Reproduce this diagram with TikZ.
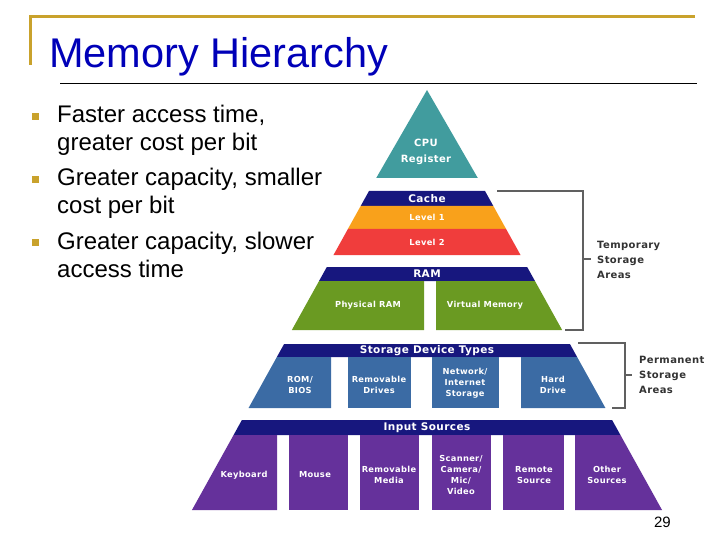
\documentclass[tikz,border=0pt]{standalone}
\usepackage{fontspec}
\setmainfont{Liberation Sans}
\newfontfamily\pyr{DejaVu Sans}[LetterSpace=4]
\usetikzlibrary{calc}
\definecolor{goldc}{HTML}{C9A22C}
\definecolor{titleblue}{HTML}{0000B8}
\definecolor{tealc}{HTML}{419C9E}
\definecolor{navyc}{HTML}{17177E}
\definecolor{orangec}{HTML}{F9A11B}
\definecolor{redc}{HTML}{F03D3C}
\definecolor{greenc}{HTML}{6A9A22}
\definecolor{steelc}{HTML}{3B6BA4}
\definecolor{purplec}{HTML}{65319B}
\definecolor{brkgray}{HTML}{606060}
\definecolor{sidegray}{HTML}{333333}
\newcommand\pyrband[3]{\fill[#3] ({lx(#1)},#1) -- ({rx(#1)},#1) -- ({rx(#2)},#2) -- ({lx(#2)},#2) -- cycle;}
\begin{document}
\begin{tikzpicture}[x=1pt,y=-1pt,
  declare function={lx(\t)=427-(58+0.555*(\t-191)); rx(\t)=427+(58+0.555*(\t-191));},
  hdr/.style={text=white,font=\pyr\bfseries\fontsize{10.5}{12}\selectfont,inner sep=0},
  lab/.style={text=white,font=\pyr\bfseries\fontsize{8.3}{11}\selectfont,align=center,inner sep=0},
  brk/.style={draw=brkgray,line width=1.2pt},
  side/.style={text=sidegray,font=\pyr\bfseries\fontsize{10}{15}\selectfont,align=left,anchor=west,inner sep=0},
  bul/.style={font=\fontsize{24}{28}\selectfont,anchor=base west,inner sep=0},
  bsq/.style={fill=goldc}]
\useasboundingbox (0,0) rectangle (720,540);
% frame
\draw[goldc,line width=3pt] (30,65) -- (30,17) -- (695,17);
\draw[black,line width=1pt] (60,84) -- (697,84);
\node[font=\fontsize{41.5}{44}\selectfont,text=titleblue,anchor=base west,inner sep=0] (title) at (49,68) {Memory Hierarchy};
% bullets
\fill[bsq] (32,113) rectangle (39,120);
\fill[bsq] (32,176) rectangle (39,183);
\fill[bsq] (32,239) rectangle (39,246);
\node[bul] (b1a) at (57,123) {Faster access time,};
\node[bul] (b1b) at (57,151) {greater cost per bit};
\node[bul] (b2a) at (57,186) {Greater capacity, smaller};
\node[bul] (b2b) at (57,214) {cost per bit};
\node[bul] (b3a) at (57,249) {Greater capacity, slower};
\node[bul] (b3b) at (57,277) {access time};
% CPU triangle
\fill[tealc] (427,90) -- ({rx(178)},178) -- ({lx(178)},178) -- cycle;
\node[lab,font=\pyr\bfseries\fontsize{10}{16}\selectfont] (cpu) at (426,152) {CPU\\Register};
% cache
\pyrband{191}{206}{navyc}
\pyrband{206}{229}{orangec}
\pyrband{229}{255}{redc}
\node[hdr] (cache) at (427,198.5) {Cache};
\node[lab] (l1) at (427,217.5) {Level 1};
\node[lab] (l2) at (427,242) {Level 2};
% RAM
\pyrband{267}{281}{navyc}
\fill[greenc] ({lx(281)},281) -- (424,281) -- (424,330) -- ({lx(330)},330) -- cycle;
\fill[greenc] (436,281) -- ({rx(281)},281) -- ({rx(330)},330) -- (436,330) -- cycle;
\node[hdr] (ram) at (427,274) {RAM};
\node[lab] (phys) at (368,305.5) {Physical RAM};
\node[lab] (virt) at (485,305.5) {Virtual Memory};
% storage
\pyrband{344}{357}{navyc}
\fill[steelc] ({lx(357)},357) -- (331,357) -- (331,408) -- ({lx(408)},408) -- cycle;
\fill[steelc] (348,357) rectangle (411,408);
\fill[steelc] (432,357) rectangle (499,408);
\fill[steelc] (521,357) -- ({rx(357)},357) -- ({rx(408)},408) -- (521,408) -- cycle;
\node[hdr] (sdt) at (427,351) {Storage Device Types};
\node[lab] (rom) at (300,385) {ROM/\\BIOS};
\node[lab] (remd) at (379,385) {Removable\\Drives};
\node[lab] (net) at (465,383) {Network/\\Internet\\Storage};
\node[lab] (hdd) at (553,385) {Hard\\Drive};
% input
\pyrband{420}{435}{navyc}
\fill[purplec] ({lx(435)},435) -- (277,435) -- (277,510) -- ({lx(510)},510) -- cycle;
\fill[purplec] (289,435) rectangle (348,510);
\fill[purplec] (360,435) rectangle (419,510);
\fill[purplec] (432,435) rectangle (491,510);
\fill[purplec] (503,435) rectangle (564,510);
\fill[purplec] (575,435) -- ({rx(435)},435) -- ({rx(510)},510) -- (575,510) -- cycle;
\node[hdr] (inp) at (427,427.5) {Input Sources};
\node[lab] (kb) at (244,475) {Keyboard};
\node[lab] (mouse) at (315,475) {Mouse};
\node[lab] (remm) at (389,475) {Removable\\Media};
\node[lab] (scan) at (461,475) {Scanner/\\Camera/\\Mic/\\Video};
\node[lab] (remote) at (534,475) {Remote\\Source};
\node[lab] (other) at (607,475) {Other\\Sources};
% brackets
\draw[brk] (497,191) -- (583,191) -- (583,330) -- (565,330);
\coordinate (tmid) at (583,259);
\node[side] (temp) at (597,260) {Temporary\\Storage\\Areas};
\draw[brk] (tmid) -- (591,259);
\draw[brk] (578,343) -- (625,343) -- (625,408) -- (612,408);
\coordinate (pmid) at (625,375);
\node[side] (perm) at (639,375) {Permanent\\Storage\\Areas};
\draw[brk] (pmid) -- (632,375);
% page number
\node[font=\fontsize{15}{18}\selectfont,anchor=base east,inner sep=0] (pg) at (671,527) {29};
\end{tikzpicture}
\end{document}
